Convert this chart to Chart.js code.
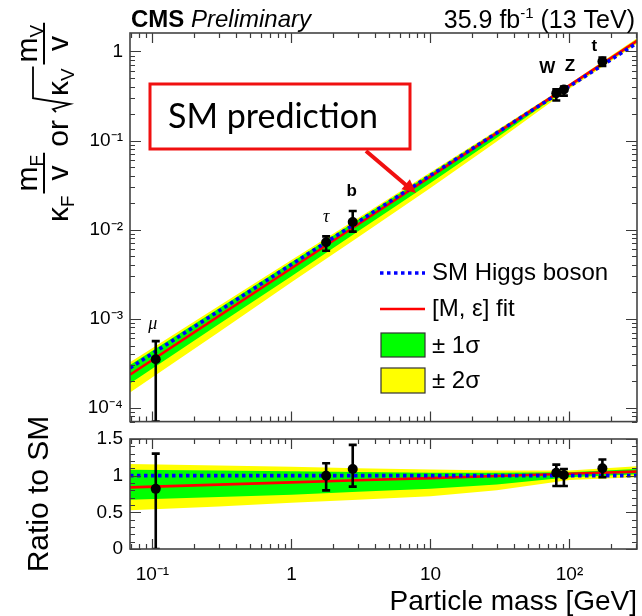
<!DOCTYPE html>
<html><head><meta charset="utf-8">
<script src="https://cdn.jsdelivr.net/npm/chart.js@4.4.0/dist/chart.umd.min.js"></script>
<style>
html,body{margin:0;padding:0;background:#fff;}
#wrap{position:relative;width:642px;height:616px;overflow:hidden;background:#fff;}
canvas{position:absolute;left:0;}
#topc{top:0;}
#botc{top:380px;}
</style></head><body>
<div id="wrap"><canvas id="botc" width="642" height="236"></canvas><canvas id="topc" width="642" height="440"></canvas></div>
<script>
// ---------------- data ----------------
const massGrid      = [0.069, 0.3, 1, 3, 10, 30, 100, 306];
const smPrediction  = [2.80e-4, 1.218e-3, 4.061e-3, 1.218e-2, 4.061e-2, 0.1218, 0.4061, 1.243];
const smRatio       = [1, 1, 1, 1, 1, 1, 1, 1];
const fitRatio      = [0.84, 0.878, 0.908, 0.937, 0.967, 0.996, 1.026, 1.055];
const band1Hi       = [1.08, 1.07, 1.06, 1.05, 1.04, 1.04, 1.045, 1.09];
const band1Lo       = [0.67, 0.71, 0.74, 0.78, 0.82, 0.88, 0.98, 1.02];
const band2Hi       = [1.16, 1.14, 1.12, 1.10, 1.085, 1.07, 1.07, 1.13];
const band2Lo       = [0.53, 0.58, 0.63, 0.67, 0.72, 0.80, 0.94, 0.98];

const particleNames = ['μ', 'τ', 'b', 'W', 'Z', 't'];
const particleMass  = [0.1057, 1.777, 2.76, 80.4, 91.19, 172.5];
const couplingValue = [3.5e-4, 7.2e-3, 1.22e-2, 0.34, 0.374, 0.77];
const couplingErrLo = [0, 5.8e-3, 9.5e-3, 0.281, 0.319, 0.687];
const couplingErrHi = [5.6e-4, 8.4e-3, 1.62e-2, 0.375, 0.404, 0.855];
const ratioValue    = [0.82, 1.00, 1.09, 1.04, 1.01, 1.10];
const ratioErrLo    = [0.00, 0.80, 0.85, 0.86, 0.86, 0.98];
const ratioErrHi    = [1.30, 1.17, 1.42, 1.15, 1.09, 1.22];

const yTicksTop       = [1e-4, 1e-3, 1e-2, 1e-1, 1];
const yTickLabelsTop  = ['10⁻⁴', '10⁻³', '10⁻²', '10⁻¹', '1'];
const yTicksRatio     = [0, 0.5, 1, 1.5];
const yTickLabelsRatio= ['0', '0.5', '1', '1.5'];
const xTicks          = [0.1, 1, 10, 100];
const xTickLabels     = ['10⁻¹', '1', '10', '10²'];

const legendLabels = ['SM Higgs boson', '[M, ε] fit', '± 1σ', '± 2σ'];

// ---------------- helpers ----------------
const FONT = '"Liberation Sans", Arial, Helvetica, sans-serif';
const YELLOW = '#ffff00', GREEN = '#00ff00', RED = '#ff0000', BLUE = '#0000ff';

function pts(ys) { return massGrid.map((m, i) => ({x: m, y: ys[i]})); }
function mul(a, b) { return a.map((v, i) => v * b[i]); }
function labelFor(vals, labels) {
  return v => { const i = vals.findIndex(t => Math.abs(t - v) <= Math.abs(t) * 1e-6 + 1e-12); return i >= 0 ? labels[i] : ''; };
}
function logMinors(min, max) {
  const out = [];
  for (let e = Math.floor(Math.log10(min)) - 1; e <= Math.ceil(Math.log10(max)); e++)
    for (let k = 2; k <= 9; k++) { const v = k * Math.pow(10, e); if (v > min && v < max) out.push(v); }
  return out;
}
function linMinors(min, max, step) {
  const out = []; for (let v = min; v <= max + 1e-9; v += step) out.push(+v.toFixed(6)); return out;
}

function drawFrame(chart, yMajor, yMinor) {
  const {ctx, chartArea: {left, right, top, bottom}} = chart;
  const xs = chart.scales.x, ys = chart.scales.y;
  const xMinor = logMinors(xs.min, xs.max);
  ctx.save();
  ctx.strokeStyle = '#3a3a3a';
  ctx.lineWidth = 1.2;
  ctx.beginPath();
  xTicks.forEach(v => { const p = Math.round(xs.getPixelForValue(v)) + 0.5;
    ctx.moveTo(p, bottom); ctx.lineTo(p, bottom - 10); ctx.moveTo(p, top); ctx.lineTo(p, top + 10); });
  xMinor.forEach(v => { const p = Math.round(xs.getPixelForValue(v)) + 0.5;
    ctx.moveTo(p, bottom); ctx.lineTo(p, bottom - 5); ctx.moveTo(p, top); ctx.lineTo(p, top + 5); });
  yMajor.forEach(v => { const p = Math.round(ys.getPixelForValue(v)) + 0.5;
    ctx.moveTo(left, p); ctx.lineTo(left + 11, p); ctx.moveTo(right, p); ctx.lineTo(right - 11, p); });
  yMinor.forEach(v => { const p = Math.round(ys.getPixelForValue(v)) + 0.5;
    ctx.moveTo(left, p); ctx.lineTo(left + 5, p); ctx.moveTo(right, p); ctx.lineTo(right - 5, p); });
  ctx.stroke();
  ctx.lineWidth = 1.6;
  ctx.strokeStyle = '#444';
  ctx.strokeRect(left, top, right - left, bottom - top);
  ctx.restore();
}

function drawErrorBars(chart, lo, hi) {
  const {ctx, chartArea: {left, right, top, bottom}} = chart;
  const xs = chart.scales.x, ys = chart.scales.y;
  ctx.save();
  ctx.beginPath(); ctx.rect(left, top, right - left, bottom - top); ctx.clip();
  ctx.strokeStyle = '#000'; ctx.lineWidth = 2.6;
  particleMass.forEach((m, i) => {
    const x = xs.getPixelForValue(m);
    const y1 = ys.getPixelForValue(lo[i]), y2 = ys.getPixelForValue(hi[i]);
    ctx.beginPath();
    ctx.moveTo(x, y1); ctx.lineTo(x, y2);
    ctx.moveTo(x - 4, y1); ctx.lineTo(x + 4, y1);
    ctx.moveTo(x - 4, y2); ctx.lineTo(x + 4, y2);
    ctx.stroke();
  });
  ctx.restore();
}

function bandDatasets(scaleArr, centerBlue) {
  const f = arr => scaleArr ? mul(arr, scaleArr) : arr;
  return [
    {label: '± 2σ', data: pts(f(band2Hi)), backgroundColor: YELLOW, borderWidth: 0, pointRadius: 0, fill: '+1', order: 10},
    {label: '', data: pts(f(band2Lo)), borderWidth: 0, pointRadius: 0, fill: false, order: 10},
    {label: '± 1σ', data: pts(f(band1Hi)), backgroundColor: GREEN, borderWidth: 0, pointRadius: 0, fill: '+1', order: 9},
    {label: '', data: pts(f(band1Lo)), borderWidth: 0, pointRadius: 0, fill: false, order: 9},
    {label: '[M, ε] fit', data: pts(f(fitRatio)), borderColor: RED, borderWidth: 2.6, pointRadius: 0, fill: false, order: 8},
    {label: 'SM Higgs boson', data: pts(centerBlue), borderColor: BLUE, borderWidth: 3.6, borderDash: [3.5, 3.5], pointRadius: 0, fill: false, order: 7}
  ];
}

// y title (top panel), drawn rotated
function drawYTitle(ctx) {
  ctx.save();
  ctx.translate(0, 226);
  ctx.rotate(-Math.PI / 2);
  ctx.fillStyle = '#000'; ctx.strokeStyle = '#000';
  ctx.textAlign = 'left'; ctx.textBaseline = 'alphabetic';
  const big = '30px ' + FONT, sub = '19px ' + FONT;
  const base = 68, numBase = 37, barV = 44;
  function frac(u, mainTxt, subTxt) {
    ctx.font = big; const wm = ctx.measureText(mainTxt).width;
    ctx.font = sub; const ws = ctx.measureText(subTxt).width;
    ctx.font = big; const wd = ctx.measureText('v').width;
    const wn = wm + ws, W = Math.max(wn, wd) + 4;
    const nu = u + (W - wn) / 2;
    ctx.font = big; ctx.fillText(mainTxt, nu, numBase);
    ctx.font = sub; ctx.fillText(subTxt, nu + wm, numBase + 6);
    ctx.lineWidth = 2;
    ctx.beginPath(); ctx.moveTo(u, barV); ctx.lineTo(u + W, barV); ctx.stroke();
    ctx.font = big; ctx.fillText('v', u + (W - wd) / 2, base);
    return u + W;
  }
  let u = 4;
  ctx.font = big; ctx.fillText('κ', u, base); u += ctx.measureText('κ').width;
  ctx.font = sub; ctx.fillText('F', u, base + 6); u += ctx.measureText('F').width + 2;
  u = frac(u, 'm', 'F') + 6;
  ctx.font = big; ctx.fillText('or', u, base); u += ctx.measureText('or').width + 8;
  // radical
  const r0 = u;
  ctx.font = big; const wk = ctx.measureText('κ').width;
  ctx.font = sub; const wv = ctx.measureText('V').width;
  ctx.lineWidth = 1.8;
  ctx.beginPath();
  ctx.moveTo(r0, 56); ctx.lineTo(r0 + 3, 53); ctx.lineTo(r0 + 8, 70); ctx.lineTo(r0 + 14, 33);
  ctx.lineTo(r0 + 18 + wk + wv, 33);
  ctx.stroke();
  u = r0 + 16;
  ctx.font = big; ctx.fillText('κ', u, base); u += wk;
  ctx.font = sub; ctx.fillText('V', u, base + 6); u += wv + 4;
  frac(u, 'm', 'V');
  ctx.restore();
}

// ---------------- top chart ----------------
const topDecor = {
  id: 'topDecor',
  beforeDatasetDraw(chart, args) {
    if (args.index === 6) drawErrorBars(chart, couplingErrLo, couplingErrHi);
  },
  afterDatasetsDraw(chart) {
    const ys = chart.scales.y;
    drawFrame(chart, yTicksTop, logMinors(ys.min, ys.max));
  },
  afterDraw(chart) {
    const ctx = chart.ctx, xs = chart.scales.x, ys = chart.scales.y;
    const {left, right} = chart.chartArea;
    ctx.save();
    // header
    ctx.fillStyle = '#000'; ctx.textBaseline = 'alphabetic'; ctx.textAlign = 'left';
    ctx.font = 'bold 24px ' + FONT; ctx.fillText('CMS', left + 1, 27);
    const wc = ctx.measureText('CMS ').width;
    ctx.font = 'italic 24px ' + FONT; ctx.fillText('Preliminary', left + 1 + wc, 27);
    // lumi
    ctx.font = '25px ' + FONT;
    const p1 = '35.9 fb', p3 = ' (13 TeV)';
    const w1 = ctx.measureText(p1).width, w3 = ctx.measureText(p3).width;
    ctx.font = '15px ' + FONT; const w2 = ctx.measureText('-1').width;
    let x0 = right - 2 - (w1 + w2 + w3);
    ctx.font = '25px ' + FONT; ctx.fillText(p1, x0, 28);
    ctx.font = '15px ' + FONT; ctx.fillText('-1', x0 + w1, 18);
    ctx.font = '25px ' + FONT; ctx.fillText(p3, x0 + w1 + w2, 28);

    // particle labels
    const offs = [[-3, -35], [0, -25], [-1, -31], [-9, -25], [6, -23], [-8, -15]];
    ctx.textAlign = 'center'; ctx.textBaseline = 'middle';
    particleNames.forEach((n, i) => {
      const greek = (n === 'μ' || n === 'τ');
      ctx.font = greek ? 'italic 18px "Liberation Serif", serif' : 'bold 17px ' + FONT;
      ctx.fillText(n, xs.getPixelForValue(particleMass[i]) + offs[i][0], ys.getPixelForValue(couplingValue[i]) + offs[i][1]);
    });

    // legend
    ctx.textAlign = 'left'; ctx.textBaseline = 'middle';
    ctx.font = '24px ' + FONT;
    ctx.strokeStyle = BLUE; ctx.lineWidth = 3.6; ctx.setLineDash([3.5, 3.5]);
    ctx.beginPath(); ctx.moveTo(380, 273); ctx.lineTo(425, 273); ctx.stroke();
    ctx.setLineDash([]);
    ctx.strokeStyle = RED; ctx.lineWidth = 2.6;
    ctx.beginPath(); ctx.moveTo(380, 309); ctx.lineTo(425, 309); ctx.stroke();
    ctx.fillStyle = GREEN; ctx.fillRect(381, 333, 44, 24);
    ctx.strokeStyle = '#333'; ctx.lineWidth = 1.2; ctx.strokeRect(381, 333, 44, 24);
    ctx.fillStyle = YELLOW; ctx.fillRect(381, 368, 44, 25);
    ctx.strokeRect(381, 368, 44, 25);
    ctx.fillStyle = '#000';
    ctx.fillText(legendLabels[0], 432, 273);
    ctx.fillText(legendLabels[1], 432, 309);
    ctx.fillText(legendLabels[2], 432, 346);
    ctx.fillText(legendLabels[3], 432, 381);

    // SM prediction callout
    ctx.fillStyle = '#fff'; ctx.fillRect(150, 84, 260, 65);
    ctx.strokeStyle = '#f01010'; ctx.lineWidth = 3; ctx.strokeRect(150, 84, 260, 65);
    ctx.fillStyle = '#000'; ctx.font = '34px Lato, "Open Sans", sans-serif';
    ctx.textAlign = 'left'; ctx.textBaseline = 'middle';
    ctx.fillText('SM prediction', 168, 117);
    // arrow
    ctx.strokeStyle = '#f01010'; ctx.fillStyle = '#f01010'; ctx.lineWidth = 4;
    ctx.beginPath(); ctx.moveTo(366, 151); ctx.lineTo(406, 185); ctx.stroke();
    const ang = Math.atan2(193 - 151, 416 - 366);
    ctx.beginPath();
    ctx.moveTo(416, 193);
    ctx.lineTo(416 - 15 * Math.cos(ang - 0.45), 193 - 15 * Math.sin(ang - 0.45));
    ctx.lineTo(416 - 15 * Math.cos(ang + 0.45), 193 - 15 * Math.sin(ang + 0.45));
    ctx.closePath(); ctx.fill();
    ctx.restore();

    drawYTitle(ctx);
  }
};

const topDatasets = bandDatasets(smPrediction, smPrediction);
topDatasets.push({label: 'data', data: particleMass.map((m, i) => ({x: m, y: couplingValue[i]})),
  showLine: false, pointRadius: 5, pointBackgroundColor: '#000', pointBorderColor: '#000', pointBorderWidth: 0, order: 1});

new Chart(document.getElementById('topc'), {
  type: 'line',
  data: {datasets: topDatasets},
  options: {
    responsive: false, animation: false, devicePixelRatio: 1, events: [],
    layout: {padding: {left: 0, right: 2, top: 33, bottom: 8}},
    plugins: {legend: {display: false}, tooltip: {enabled: false}},
    elements: {line: {tension: 0}},
    scales: {
      x: {type: 'logarithmic', min: 0.069, max: 306, bounds: 'data',
          grid: {display: false}, border: {display: false}, ticks: {display: false},
          afterFit: s => { s.height = 0; }},
      y: {type: 'logarithmic', min: 7e-5, max: 1.61, bounds: 'data',
          grid: {display: false, drawTicks: false}, border: {display: false},
          afterBuildTicks: s => { s.ticks = yTicksTop.map(v => ({value: v})); },
          ticks: {autoSkip: false, padding: 7, color: '#000', font: {family: FONT, size: 19},
                  callback: labelFor(yTicksTop, yTickLabelsTop)},
          afterFit: s => { s.width = 130; }}
    }
  },
  plugins: [topDecor]
});

// ---------------- ratio chart ----------------
const botDecor = {
  id: 'botDecor',
  beforeDatasetDraw(chart, args) {
    if (args.index === 6) drawErrorBars(chart, ratioErrLo, ratioErrHi);
  },
  afterDatasetsDraw(chart) {
    drawFrame(chart, yTicksRatio, linMinors(0, 1.5, 0.1));
  }
};

const botDatasets = bandDatasets(null, smRatio);
botDatasets.push({label: 'data', data: particleMass.map((m, i) => ({x: m, y: ratioValue[i]})),
  showLine: false, pointRadius: 5, pointBackgroundColor: '#000', pointBorderColor: '#000', pointBorderWidth: 0, order: 1});

new Chart(document.getElementById('botc'), {
  type: 'line',
  data: {datasets: botDatasets},
  options: {
    responsive: false, animation: false, devicePixelRatio: 1, events: [],
    layout: {padding: {left: 0, right: 2, top: 59, bottom: 0}},
    plugins: {legend: {display: false}, tooltip: {enabled: false}},
    elements: {line: {tension: 0}},
    scales: {
      x: {type: 'logarithmic', min: 0.069, max: 306, bounds: 'data',
          grid: {display: false, drawTicks: false}, border: {display: false},
          afterBuildTicks: s => { s.ticks = xTicks.map(v => ({value: v})); },
          ticks: {autoSkip: false, maxRotation: 0, padding: 14, color: '#000', font: {family: FONT, size: 19},
                  callback: labelFor(xTicks, xTickLabels)},
          title: {display: true, text: 'Particle mass [GeV]', align: 'end', color: '#000',
                  font: {family: FONT, size: 28}, padding: {top: 0, bottom: -3}},
          afterFit: s => { s.height = 67; }},
      y: {type: 'linear', min: 0, max: 1.5, bounds: 'data',
          grid: {display: false, drawTicks: false}, border: {display: false},
          afterBuildTicks: s => { s.ticks = yTicksRatio.map(v => ({value: v})); },
          ticks: {autoSkip: false, padding: 7, color: '#000', font: {family: FONT, size: 19},
                  callback: labelFor(yTicksRatio, yTickLabelsRatio)},
          title: {display: true, text: 'Ratio to SM', color: '#000',
                  font: {family: FONT, size: 30}, padding: {top: 22, bottom: 0}},
          afterFit: s => { s.width = 130; }}
    }
  },
  plugins: [botDecor]
});
</script>
</body></html>
